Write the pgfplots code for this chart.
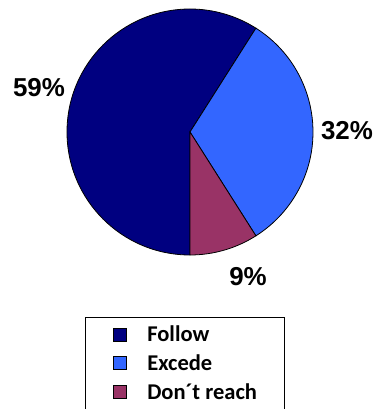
\documentclass[border=0pt]{standalone}
\usepackage{pgfplots}
\pgfplotsset{compat=1.18}
\usepackage{fontspec}
\setmainfont{Liberation Sans}
\newfontfamily\carlito{Carlito}
\definecolor{cFollow}{HTML}{000080}
\definecolor{cExcede}{HTML}{3366FF}
\definecolor{cDont}{HTML}{993366}
\begin{document}
\begin{tikzpicture}
\pgfmathsetmacro\vA{59}\pgfmathsetmacro\vB{32}\pgfmathsetmacro\vC{9}
\pgfmathsetmacro\aA{270-3.6*\vA}
\pgfmathsetmacro\aB{\aA-3.6*\vB}
\pgfmathsetmacro\aC{\aB-3.6*\vC}
\begin{axis}[at={(0,0)}, anchor=south west, x=1bp, y=1bp,
  xmin=0, xmax=378, ymin=0, ymax=409, hide axis, clip=false,
  legend style={at={(axis description cs:0.2249,0.2249)}, anchor=north west,
    draw=black, line width=1bp, inner xsep=27bp, inner ysep=10bp,
    font=\carlito\bfseries\fontsize{22.6}{25}\selectfont,
    nodes={inner sep=0pt, text height=12bp, text depth=5bp},
    row sep=10bp, /tikz/every odd column/.append style={column sep=21bp}},
  legend cell align=left,
  legend image code/.code={\draw[#1, line width=0.8pt] (0bp,-3bp) rectangle (13bp,10bp);},
]
\filldraw[fill=cFollow, draw=black, line width=0.8pt] (axis cs:190,277) -- (axis cs:190,154) arc[start angle=270, end angle=\aA, radius=123bp] -- cycle;
\filldraw[fill=cExcede, draw=black, line width=0.8pt] (axis cs:190,277) -- ++(\aA:123bp) arc[start angle=\aA, end angle=\aB, radius=123bp] -- cycle;
\filldraw[fill=cDont, draw=black, line width=0.8pt] (axis cs:190,277) -- ++(\aB:123bp) arc[start angle=\aB, end angle=\aC, radius=123bp] -- cycle;
\addlegendimage{fill=cFollow, draw=black}
\addlegendentry{Follow}
\addlegendimage{fill=cExcede, draw=black}
\addlegendentry{Excede}
\addlegendimage{fill=cDont, draw=black}
\addlegendentry{Don´t reach}
\node[font=\bfseries\fontsize{26}{30}\selectfont] at (axis cs:39,321) {59\%};
\node[font=\bfseries\fontsize{26}{30}\selectfont] at (axis cs:347,278) {32\%};
\node[font=\bfseries\fontsize{26}{30}\selectfont] at (axis cs:248,132) {9\%};
\end{axis}
\pgfresetboundingbox
\path (0,0) rectangle (378bp,409bp);
\end{tikzpicture}
\end{document}
